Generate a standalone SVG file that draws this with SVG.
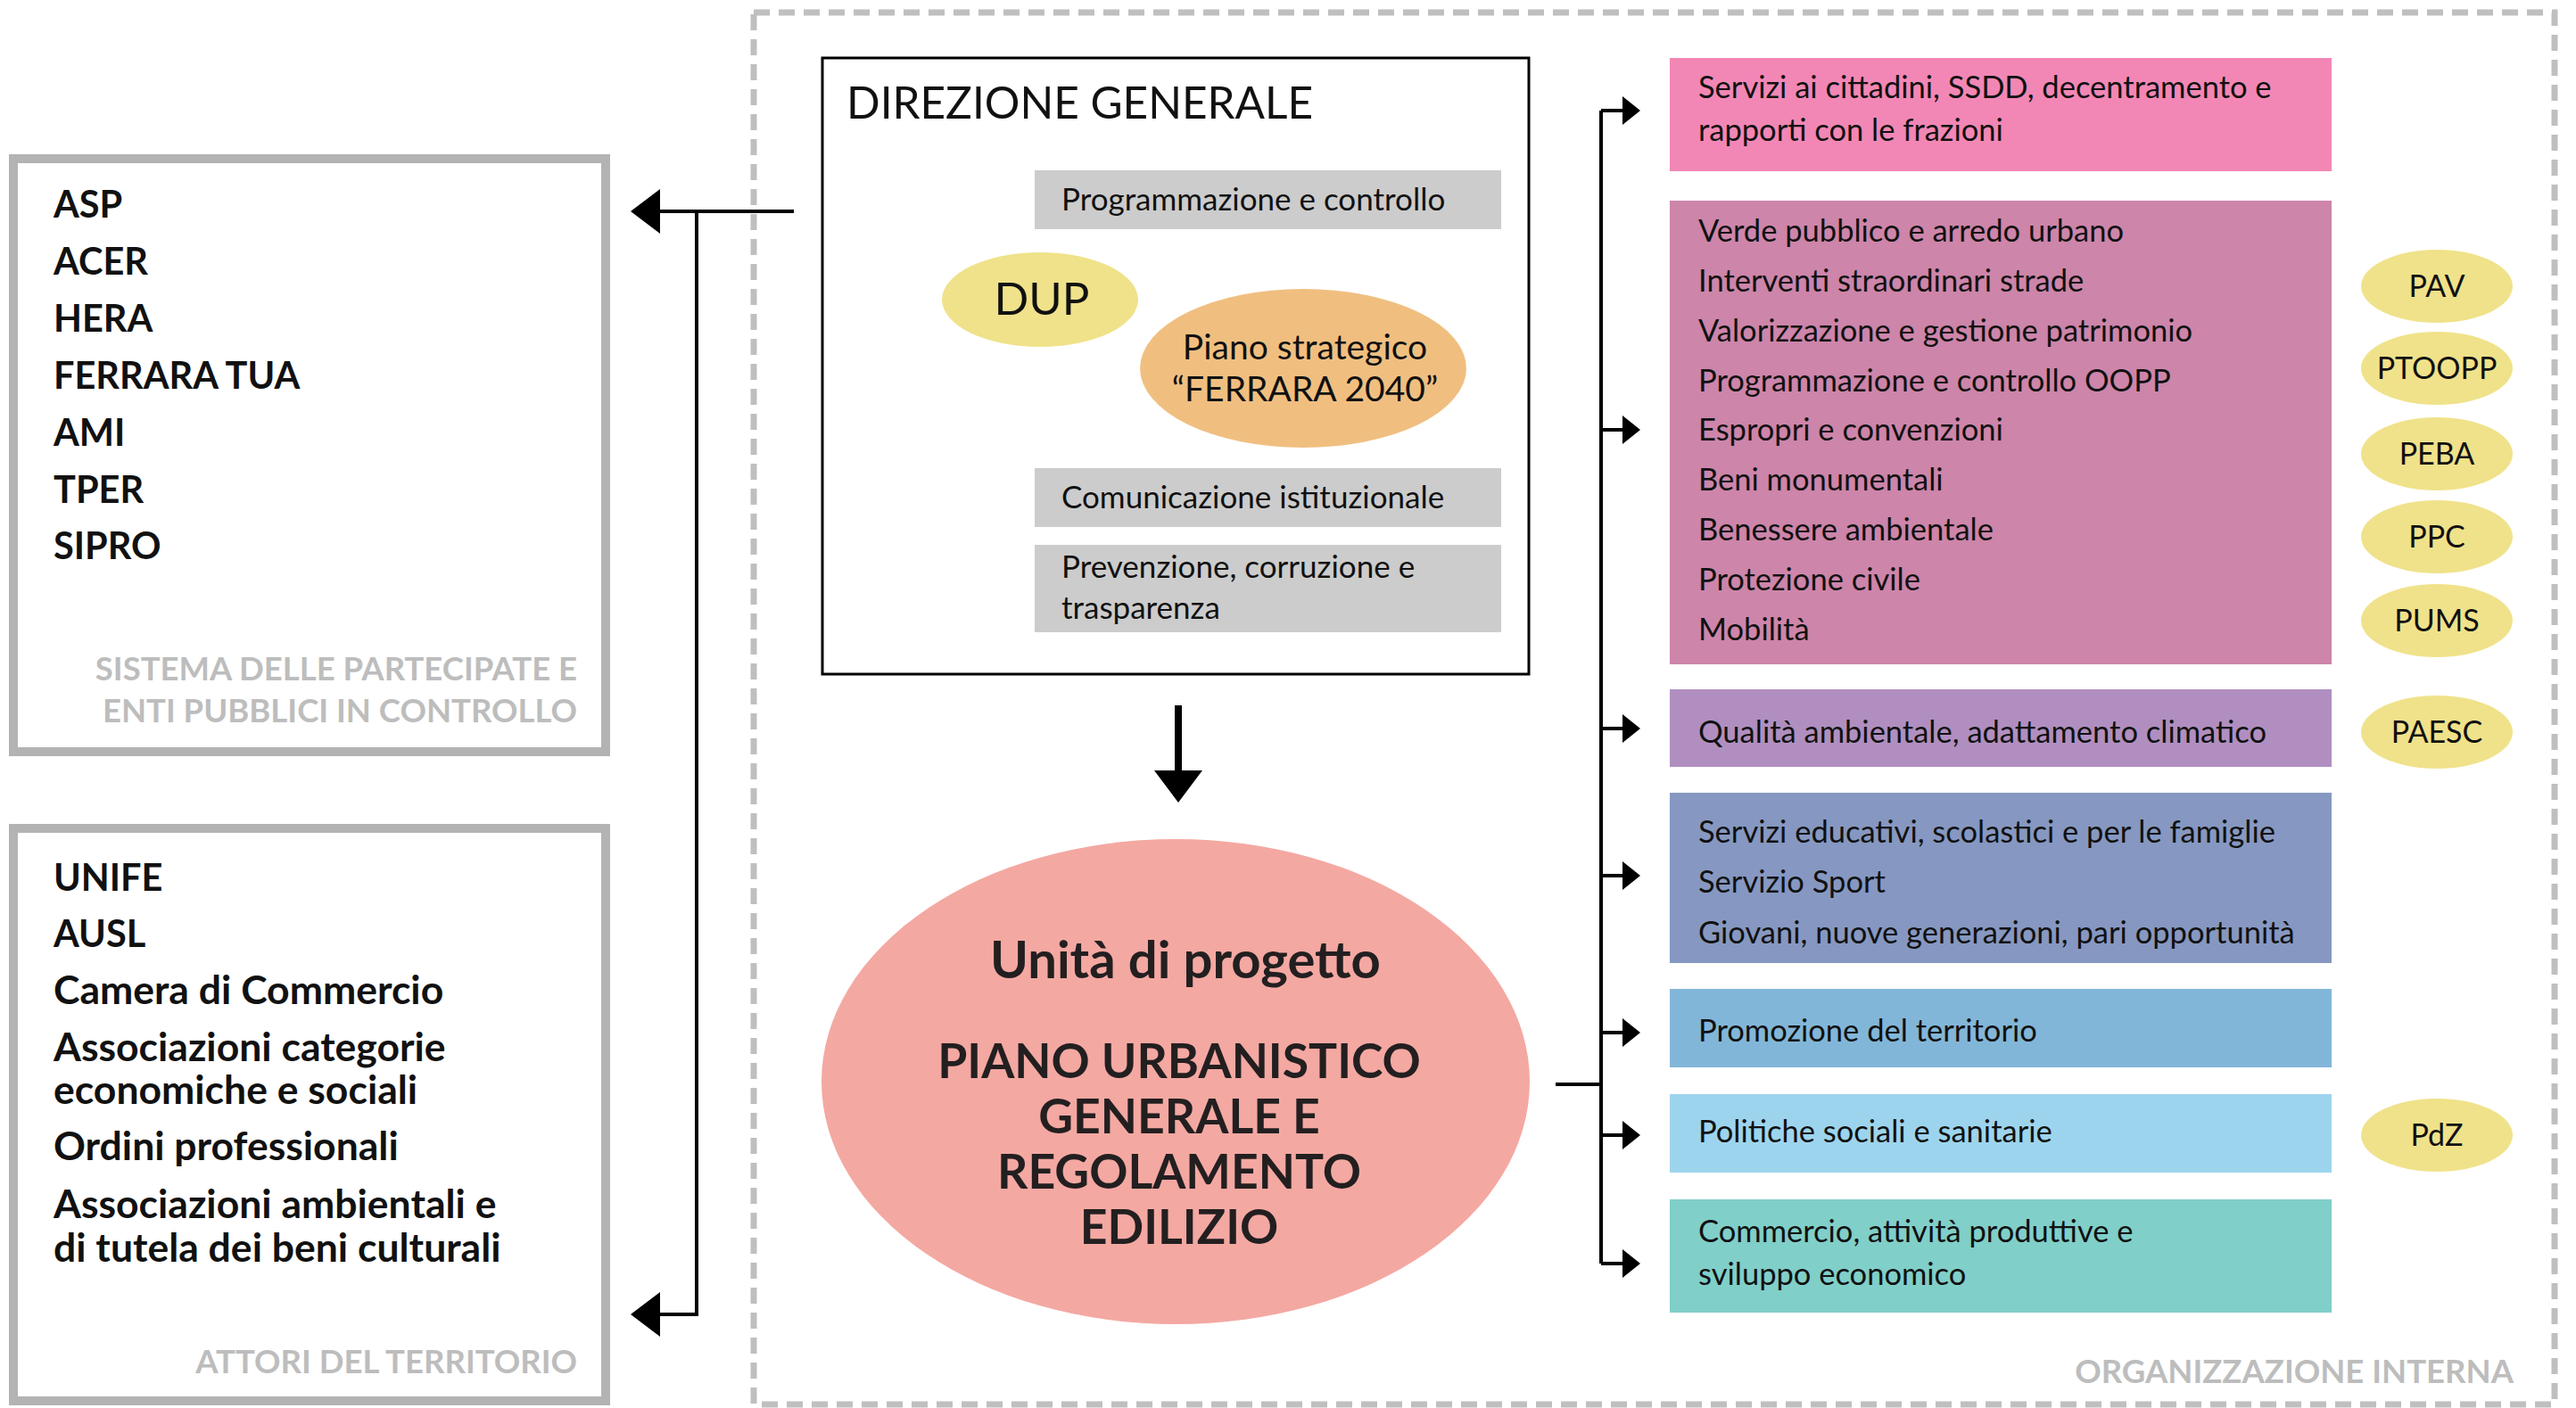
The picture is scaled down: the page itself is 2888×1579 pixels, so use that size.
<svg xmlns="http://www.w3.org/2000/svg" width="2888" height="1579" viewBox="0 0 2888 1579">
<style>
text{font-family:Lato,"Open Sans","Liberation Sans",sans-serif;fill:#111}
.lt{font-size:41.5px;font-weight:bold}
.lm{font-size:44.5px;font-weight:bold}
.gt{font-size:36.5px;font-weight:bold;fill:#bdbdbd;text-anchor:end}
.frame{fill:#fff;stroke:#b3b3b3;stroke-width:10}
.dash{fill:none;stroke:#bfbfbf;stroke-width:7;stroke-dasharray:18 10}
.gray{fill:#cccccc}
.st{font-size:35px}
.rt{font-size:34.5px}
.ov{font-size:34px;text-anchor:middle}
.yel{fill:#f0e28a}
.ln{fill:none;stroke:#000;stroke-width:4}
.ah{fill:#000}
.big{font-size:53.5px;font-weight:bold;text-anchor:middle;fill:#231f20}
</style>
<rect x="0" y="0" width="2888" height="1579" fill="#fff"/>
<rect class="dash" x="845" y="14" width="2019" height="1561"/>
<text class="gt" x="2818" y="1551">ORGANIZZAZIONE INTERNA</text>

<g id="partecipate">
<rect class="frame" x="15" y="178" width="664" height="665"/>
<text class="lt" x="60" y="244">ASP</text>
<text class="lt" x="60" y="308">ACER</text>
<text class="lt" x="60" y="372">HERA</text>
<text class="lt" x="60" y="436">FERRARA TUA</text>
<text class="lt" x="60" y="500">AMI</text>
<text class="lt" x="60" y="564">TPER</text>
<text class="lt" x="60" y="627">SIPRO</text>
<text class="gt" y="763"><tspan x="647">SISTEMA DELLE PARTECIPATE E</tspan><tspan x="647" dy="47">ENTI PUBBLICI IN CONTROLLO</tspan></text>
</g>

<g id="attori">
<rect class="frame" x="15" y="929" width="664" height="642"/>
<text class="lt" x="60" y="999">UNIFE</text>
<text class="lt" x="60" y="1062">AUSL</text>
<text class="lm" x="60" y="1126">Camera di Commercio</text>
<text class="lm" y="1190"><tspan x="60">Associazioni categorie</tspan><tspan x="60" dy="48">economiche e sociali</tspan></text>
<text class="lm" x="60" y="1301">Ordini professionali</text>
<text class="lm" y="1366"><tspan x="60">Associazioni ambientali e</tspan><tspan x="60" dy="49">di tutela dei beni culturali</tspan></text>
<text class="gt" x="647" y="1540">ATTORI DEL TERRITORIO</text>
</g>

<g id="direzione">
<rect x="922" y="65" width="792" height="691" fill="#fff" stroke="#000" stroke-width="3"/>
<text x="949" y="133" font-size="49.5">DIREZIONE GENERALE</text>
<rect class="gray" x="1160" y="191" width="523" height="66"/>
<text class="st" x="1190" y="236">Programmazione e controllo</text>
<rect class="gray" x="1160" y="525" width="523" height="66"/>
<text class="st" x="1190" y="570">Comunicazione istituzionale</text>
<rect class="gray" x="1160" y="611" width="523" height="98"/>
<text class="st" y="648"><tspan x="1190">Prevenzione, corruzione e</tspan><tspan x="1190" dy="46">trasparenza</tspan></text>
</g>
<g id="dup">
<ellipse class="yel" cx="1166" cy="336" rx="110" ry="53"/>
<text x="1168" y="353" font-size="51" text-anchor="middle">DUP</text>
</g>
<g id="piano-strategico">
<ellipse cx="1461" cy="413" rx="183" ry="89" fill="#f0bf80"/>
<text y="403" font-size="39" text-anchor="middle"><tspan x="1463">Piano strategico</tspan><tspan x="1463" dy="47">“FERRARA 2040”</tspan></text>
</g>

<g id="unita">
<ellipse cx="1318" cy="1213" rx="397" ry="272" fill="#f4a8a2"/>
<text class="big" x="1329" y="1097" style="font-size:58px">Unità di progetto</text>
<text class="big" y="1209"><tspan x="1322">PIANO URBANISTICO</tspan><tspan x="1322" dy="62">GENERALE E</tspan><tspan x="1322" dy="62">REGOLAMENTO</tspan><tspan x="1322" dy="62">EDILIZIO</tspan></text>
</g>

<g id="servizi-cittadini">
<rect x="1872" y="65" width="742" height="127" fill="#f287b5"/>
<text class="rt" y="110"><tspan x="1904">Servizi ai cittadini, SSDD, decentramento e</tspan><tspan x="1904" dy="48">rapporti con le frazioni</tspan></text>
</g>
<g id="lavori-pubblici">
<rect x="1872" y="225" width="742" height="520" fill="#cd85aa"/>
<text class="rt" y="271"><tspan x="1904">Verde pubblico e arredo urbano</tspan><tspan x="1904" dy="56">Interventi straordinari strade</tspan><tspan x="1904" dy="56">Valorizzazione e gestione patrimonio</tspan><tspan x="1904" dy="56">Programmazione e controllo OOPP</tspan><tspan x="1904" dy="55">Espropri e convenzioni</tspan><tspan x="1904" dy="56">Beni monumentali</tspan><tspan x="1904" dy="56">Benessere ambientale</tspan><tspan x="1904" dy="56">Protezione civile</tspan><tspan x="1904" dy="56">Mobilità</tspan></text>
</g>
<g id="qualita">
<rect x="1872" y="773" width="742" height="87" fill="#b08fc0"/>
<text class="rt" x="1904" y="833">Qualità ambientale, adattamento climatico</text>
</g>
<g id="educativi">
<rect x="1872" y="889" width="742" height="191" fill="#8698c1"/>
<text class="rt" y="945"><tspan x="1904">Servizi educativi, scolastici e per le famiglie</tspan><tspan x="1904" dy="56">Servizio Sport</tspan><tspan x="1904" dy="57">Giovani, nuove generazioni, pari opportunità</tspan></text>
</g>
<g id="promozione">
<rect x="1872" y="1109" width="742" height="88" fill="#82b6d8"/>
<text class="rt" x="1904" y="1168">Promozione del territorio</text>
</g>
<g id="sociali">
<rect x="1872" y="1227" width="742" height="88" fill="#9dd4ed"/>
<text class="rt" x="1904" y="1281">Politiche sociali e sanitarie</text>
</g>
<g id="commercio">
<rect x="1872" y="1345" width="742" height="127" fill="#80cfc9"/>
<text class="rt" y="1393"><tspan x="1904">Commercio, attività produttive e</tspan><tspan x="1904" dy="48">sviluppo economico</tspan></text>
</g>

<g id="pav"><ellipse class="yel" cx="2732" cy="321" rx="85" ry="41"/><text class="ov" x="2732" y="333">PAV</text></g>
<g id="ptoopp"><ellipse class="yel" cx="2732" cy="413" rx="85" ry="41"/><text class="ov" x="2732" y="425">PTOOPP</text></g>
<g id="peba"><ellipse class="yel" cx="2732" cy="509" rx="85" ry="41"/><text class="ov" x="2732" y="521">PEBA</text></g>
<g id="ppc"><ellipse class="yel" cx="2732" cy="602" rx="85" ry="41"/><text class="ov" x="2732" y="614">PPC</text></g>
<g id="pums"><ellipse class="yel" cx="2732" cy="696" rx="85" ry="41"/><text class="ov" x="2732" y="708">PUMS</text></g>
<g id="paesc"><ellipse class="yel" cx="2732" cy="821" rx="85" ry="41"/><text class="ov" x="2732" y="833">PAESC</text></g>
<g id="pdz"><ellipse class="yel" cx="2732" cy="1273" rx="85" ry="41"/><text class="ov" x="2732" y="1285">PdZ</text></g>

<g id="connectors">
<path class="ln" d="M890 237 H737 M781 237 V1474 H737"/>
<polygon class="ah" points="707,237 740,212 740,262"/>
<polygon class="ah" points="707,1474 740,1449 740,1499"/>
<path class="ln" d="M1321 791 V866" style="stroke-width:8"/>
<polygon class="ah" points="1294,864 1348,864 1321,900"/>
<path class="ln" d="M1744 1216 H1795 M1795 124 V1417 M1795 124 H1821 M1795 482 H1821 M1795 817 H1821 M1795 982 H1821 M1795 1158 H1821 M1795 1273 H1821 M1795 1417 H1821"/>
<polygon class="ah" points="1819,108 1819,140 1839,124"/>
<polygon class="ah" points="1819,466 1819,498 1839,482"/>
<polygon class="ah" points="1819,801 1819,833 1839,817"/>
<polygon class="ah" points="1819,966 1819,998 1839,982"/>
<polygon class="ah" points="1819,1142 1819,1174 1839,1158"/>
<polygon class="ah" points="1819,1257 1819,1289 1839,1273"/>
<polygon class="ah" points="1819,1401 1819,1433 1839,1417"/>
</g>
</svg>
